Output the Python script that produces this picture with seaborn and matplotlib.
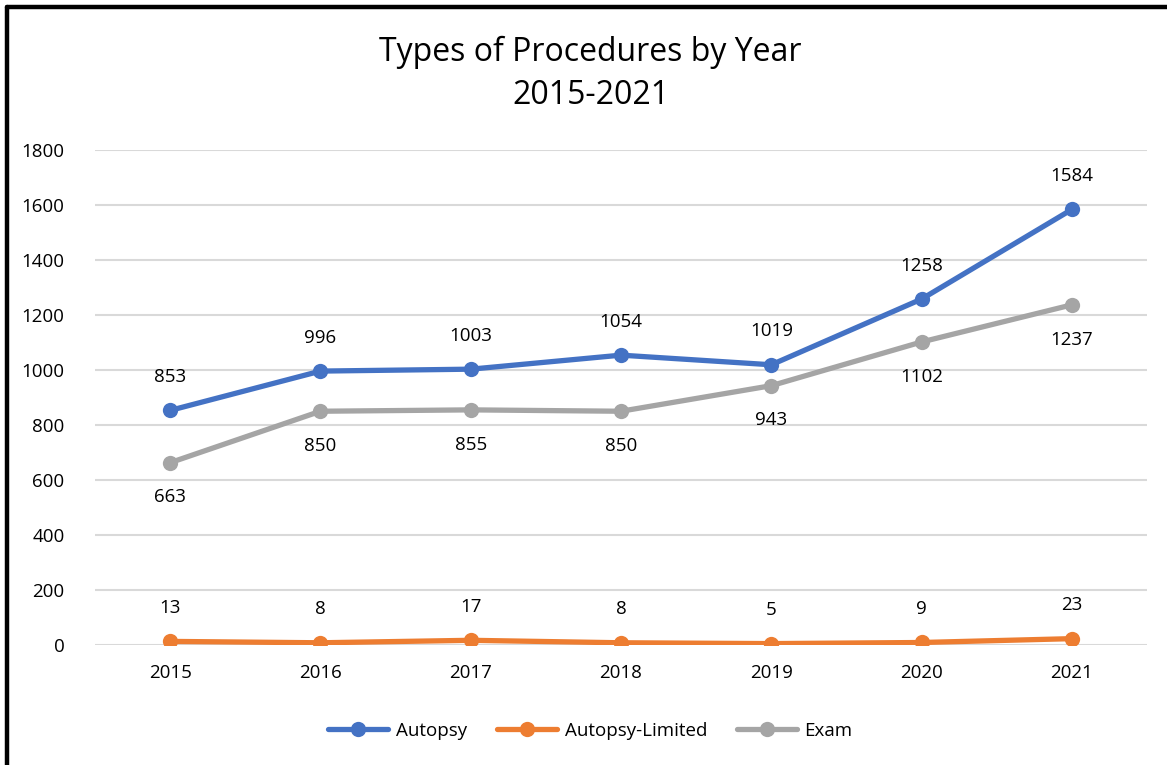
import matplotlib
matplotlib.use("Agg")
import matplotlib.pyplot as plt
from matplotlib.lines import Line2D
import seaborn as sns
import pandas as pd

years = [2015, 2016, 2017, 2018, 2019, 2020, 2021]
autopsy = [853, 996, 1003, 1054, 1019, 1258, 1584]
autopsy_limited = [13, 8, 17, 8, 5, 9, 23]
exam = [663, 850, 855, 850, 943, 1102, 1237]
series_names = ["Autopsy", "Autopsy-Limited", "Exam"]
colors = ["#4472C4", "#ED7D31", "#A5A5A5"]
y_ticks = [0, 200, 400, 600, 800, 1000, 1200, 1400, 1600, 1800]

df = pd.DataFrame({
    "Year": years * 3,
    "Count": autopsy + autopsy_limited + exam,
    "Type": [n for n in series_names for _ in years],
})

sns.set_style("white")
plt.rcParams["font.family"] = ["Open Sans", "DejaVu Sans"]
plt.rcParams["text.color"] = "black"

fig = plt.figure(figsize=(11.67, 7.65), dpi=100)
ax = fig.add_axes([0.0814, 0.1569, 0.9015, 0.647])

sns.lineplot(data=df, x="Year", y="Count", hue="Type", hue_order=series_names,
             palette=colors, marker="o", markersize=11, markeredgewidth=0,
             linewidth=3.8, ax=ax, legend=False, zorder=3)

# data labels: Autopsy and Autopsy-Limited above, Exam below
offsets = {"Autopsy": 24, "Autopsy-Limited": 24, "Exam": -25}
for name, vals in zip(series_names, [autopsy, autopsy_limited, exam]):
    for yr, v in zip(years, vals):
        ax.annotate(str(v), (yr, v), xytext=(0, offsets[name]), textcoords="offset points",
                    ha="center", va="center", fontsize=13.5, color="black")

ax.set_xlim(years[0] - 0.5, years[-1] + 0.5)
ax.set_ylim(0, 1800)
ax.set_yticks(y_ticks)
ax.set_xticks(years)
ax.tick_params(axis="both", length=0, labelsize=13.5, colors="black")
ax.tick_params(axis="y", pad=22)
ax.tick_params(axis="x", pad=14)
ax.yaxis.grid(True, color="#D9D9D9", linewidth=1.5)
ax.set_axisbelow(True)
for s in ax.spines.values():
    s.set_visible(False)
ax.set_xlabel("")
ax.set_ylabel("")

fig.text(0.506, 0.904, "Types of Procedures by Year\n2015-2021", ha="center", va="center",
         fontsize=23, linespacing=1.4, color="black")

handles = [Line2D([0], [0], color=c, linewidth=3.8, marker="o", markersize=11, markeredgewidth=0)
           for c in colors]
fig.legend(handles, series_names, loc="center", bbox_to_anchor=(0.506, 0.045), ncol=3,
           frameon=False, fontsize=13.5, handlelength=3.2, columnspacing=1.6, handletextpad=0.4,
           labelcolor="black")

# chart border (left and top edges visible)
fig.add_artist(Line2D([7 / 1167, 7 / 1167], [0, 1 - 7 / 765], transform=fig.transFigure,
                      color="black", linewidth=3.2))
fig.add_artist(Line2D([7 / 1167, 1], [1 - 7 / 765, 1 - 7 / 765], transform=fig.transFigure,
                      color="black", linewidth=3.2))

fig.savefig("out.png", dpi=100)
